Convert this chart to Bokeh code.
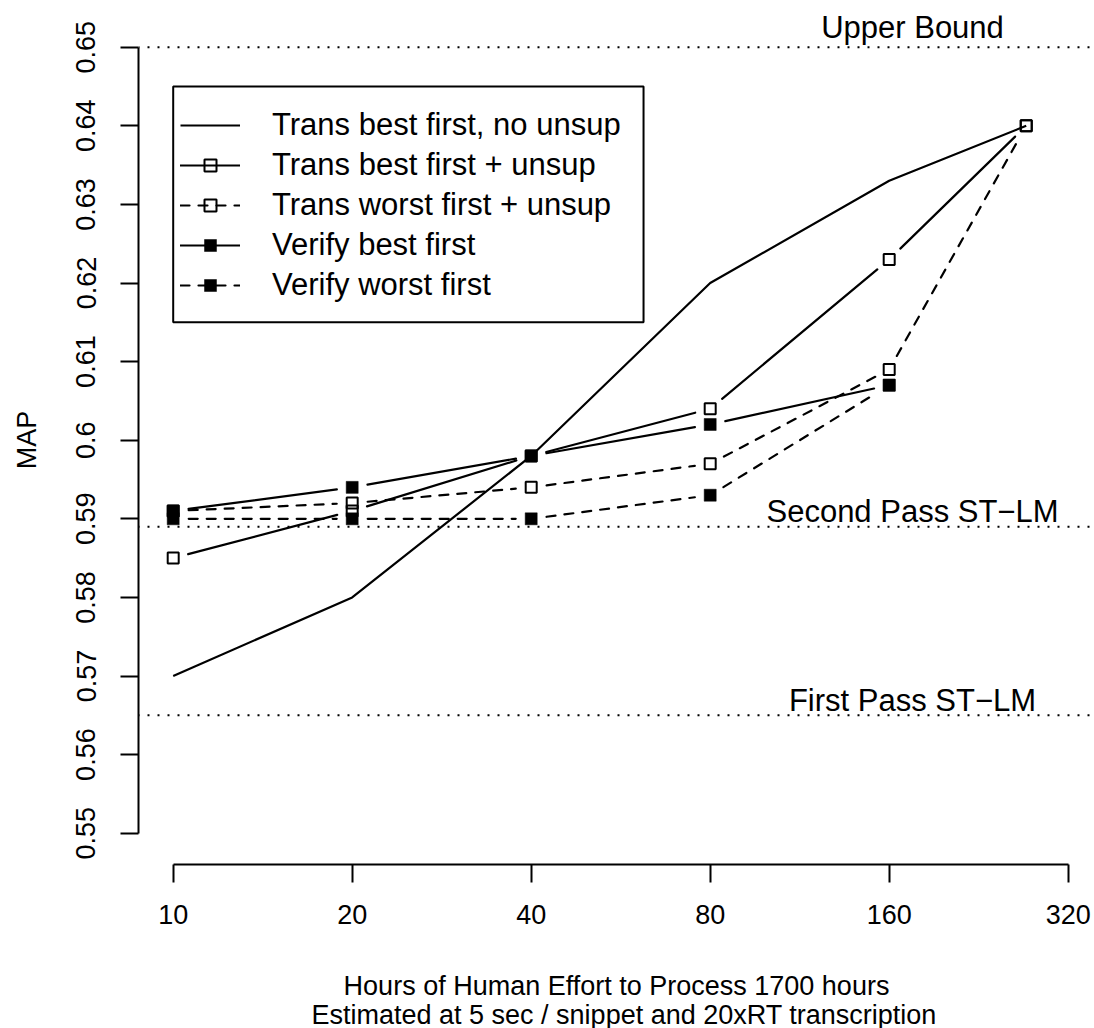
import math

from bokeh.embed import file_html
from bokeh.models import (BoxAnnotation, FixedTicker, Label, Legend,
                          LegendItem, Range1d, Span, Title)
from bokeh.plotting import figure
from bokeh.resources import INLINE

# ---------------------------------------------------------------- data
hours = [10, 20, 40, 80, 160, 272]
verify_hours = [10, 20, 40, 80, 160]

trans_best_no_unsup = [0.570, 0.580, 0.598, 0.620, 0.633, 0.640]
trans_best_unsup = [0.585, 0.591, 0.598, 0.604, 0.623, 0.640]
trans_worst_unsup = [0.591, 0.592, 0.594, 0.597, 0.609, 0.640]
verify_best = [0.591, 0.594, 0.598, 0.602, 0.607]
verify_worst = [0.590, 0.590, 0.590, 0.593, 0.607]

x_ticks = [10, 20, 40, 80, 160, 320]
x_tick_labels = ["10", "20", "40", "80", "160", "320"]
y_ticks = [0.55, 0.56, 0.57, 0.58, 0.59, 0.60, 0.61, 0.62, 0.63, 0.64, 0.65]
y_tick_labels = ["0.55", "0.56", "0.57", "0.58", "0.59", "0.6",
                 "0.61", "0.62", "0.63", "0.64", "0.65"]

ref_names = ["Upper Bound", "Second Pass ST\u2212LM", "First Pass ST\u2212LM"]
ref_values = [0.65, 0.589, 0.565]

series_names = ["Trans best first, no unsup", "Trans best first + unsup",
                "Trans worst first + unsup", "Verify best first",
                "Verify worst first"]

x_title_lines = ["Hours of Human Effort to Process 1700 hours",
                 "Estimated at 5 sec / snippet and 20xRT transcription"]

# ---------------------------------------------------------------- layout
W, H = 1094, 1028
LEFT, TOP, BOTTOM = 138, 15, 864
FRAME_W, FRAME_H = W - LEFT, BOTTOM - TOP

KX = 179.0    # pixels per doubling of hours
KY = 7860.0   # pixels per unit of MAP
X_START = 10 / 2 ** (34.7 / KX)
X_END = X_START * 2 ** (FRAME_W / KX)
Y_BOTTOM = 0.55 - 31.3 / KY
Y_TOP = Y_BOTTOM + FRAME_H / KY

FONT = "Liberation Sans"
DASH = "9 9"
LW = 2.2
GAP = 15.5    # blank space left around each point on "both" style lines


def gapped(xs, ys, gap=GAP):
    """Split a polyline into segments that stop short of every point."""
    seg_x, seg_y = [], []
    pts = list(zip(xs, ys))
    for (xa, ya), (xb, yb) in zip(pts, pts[1:]):
        ua, va = math.log2(xa) * KX, ya * KY
        ub, vb = math.log2(xb) * KX, yb * KY
        d = math.hypot(ub - ua, vb - va)
        if d <= 2 * gap:
            continue
        f = gap / d
        u0, v0 = ua + (ub - ua) * f, va + (vb - va) * f
        u1, v1 = ub - (ub - ua) * f, vb - (vb - va) * f
        seg_x.append([2 ** (u0 / KX), 2 ** (u1 / KX)])
        seg_y.append([v0 / KY, v1 / KY])
    return seg_x, seg_y


p = figure(width=W, height=H, x_axis_type="log",
           x_range=Range1d(X_START, X_END), y_range=Range1d(Y_BOTTOM, Y_TOP),
           output_backend="svg", toolbar_location=None,
           min_border_left=LEFT, min_border_right=0,
           min_border_top=TOP, min_border_bottom=H - BOTTOM,
           outline_line_color=None, background_fill_color="white",
           border_fill_color="white")
p.grid.visible = False

# ---------------------------------------------------------------- axes
for ax in (p.xaxis[0], p.yaxis[0]):
    ax.axis_line_width = 2
    ax.axis_line_color = "black"
    ax.major_tick_line_width = 2
    ax.major_tick_line_color = "black"
    ax.major_tick_out = 18
    ax.major_tick_in = 0
    ax.minor_tick_out = 0
    ax.minor_tick_in = 0
    ax.major_label_text_font = FONT
    ax.major_label_text_font_size = "27px"
    ax.major_label_text_color = "black"
    ax.axis_label_text_font = FONT
    ax.axis_label_text_font_size = "27px"
    ax.axis_label_text_font_style = "normal"
    ax.axis_label_text_color = "black"

xa = p.xaxis[0]
xa.ticker = FixedTicker(ticks=x_ticks)
xa.major_label_overrides = dict(zip(x_ticks, x_tick_labels))
xa.bounds = (x_ticks[0], x_ticks[-1])
xa.major_label_standoff = 22
xa.axis_label = x_title_lines[0]
xa.axis_label_standoff = 44

ya = p.yaxis[0]
ya.ticker = FixedTicker(ticks=y_ticks)
ya.major_label_overrides = dict(zip(y_ticks, y_tick_labels))
ya.bounds = (y_ticks[0], y_ticks[-1])
ya.major_label_orientation = "vertical"
ya.major_label_standoff = 25
ya.axis_label = "MAP"
ya.axis_label_standoff = 32

# second line of the x axis title, stacked under the axis
p.add_layout(Title(text=x_title_lines[1], align="left", offset=173,
                   standoff=-12, text_font=FONT, text_font_size="27px",
                   text_font_style="normal", text_color="black"), "below")

# ---------------------------------------------------------------- reference levels
for name, level, lift in zip(ref_names, ref_values, [20, 15, 15]):
    p.add_layout(Span(location=level, dimension="width", line_color="black",
                      line_width=2, line_dash="2 8", line_dash_offset=-9))
    p.add_layout(Label(x=912 - LEFT, x_units="screen", y=level + lift / KY,
                       text=name, text_align="center",
                       text_baseline="alphabetic", text_font=FONT,
                       text_font_size="31px", text_color="black"))

# ---------------------------------------------------------------- series
r_plain = p.line(hours, trans_best_no_unsup, line_color="black", line_width=LW)

renderers = {}
styles = [
    (series_names[1], hours, trans_best_unsup, "solid", False),
    (series_names[2], hours, trans_worst_unsup, DASH, False),
    (series_names[3], verify_hours, verify_best, "solid", True),
    (series_names[4], verify_hours, verify_worst, DASH, True),
]
for name, xs, ys, dash, filled in styles:
    sx, sy = gapped(xs, ys)
    rl = p.multi_line(sx, sy, line_color="black", line_width=LW,
                      line_dash=dash, line_cap="round")
    if filled:
        rm = p.scatter(xs, ys, marker="square", size=12, fill_color="black",
                       line_color="black", line_width=0.5)
    else:
        rm = p.scatter(xs, ys, marker="square", size=11, fill_color=None,
                       line_color="black", line_width=2)
    renderers[name] = [rl, rm]

# ---------------------------------------------------------------- legend
p.add_layout(BoxAnnotation(left=10, right=61.8, top=0.645, bottom=0.615,
                           fill_color="white", fill_alpha=1.0,
                           line_color="black", line_alpha=1.0, line_width=2))

items = [LegendItem(label=series_names[0], renderers=[r_plain])]
items += [LegendItem(label=n, renderers=renderers[n]) for n in series_names[1:]]
legend = Legend(items=items, location=(42, 559), orientation="vertical",
                padding=0, margin=0, spacing=0, glyph_width=60, glyph_height=30,
                label_height=40, label_standoff=32,
                label_text_font=FONT, label_text_font_size="31px",
                label_text_color="black", border_line_color=None,
                background_fill_alpha=0.0)
p.add_layout(legend)

open("out.html", "w").write(file_html(p, INLINE))
